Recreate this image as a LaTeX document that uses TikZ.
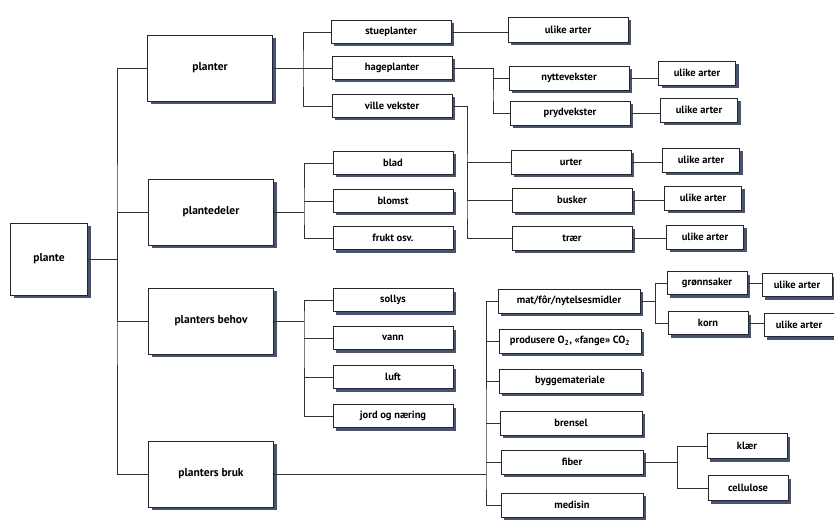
\documentclass[tikz,border=0pt]{standalone}
\usepackage{fontspec}
\setmainfont{PT Sans}
\usetikzlibrary{shadows}
\definecolor{shadowblue}{RGB}{25,40,80}
\tikzset{
  box/.style={draw=black!85, line width=0.8pt, fill=white, inner sep=1pt,
    font=\bfseries\fontsize{10.5}{12}\selectfont,
    drop shadow={shadow xshift=3pt, shadow yshift=-3pt, fill=shadowblue, opacity=0.8}},
  big/.style={box, minimum width=125pt, minimum height=66pt, font=\bfseries\fontsize{11.5}{13}\selectfont},
  small/.style={box, minimum width=120pt, minimum height=23pt},
  tiny/.style={box, minimum width=77pt, minimum height=24pt},
  wide/.style={box, minimum width=142pt, minimum height=24pt},
  veg/.style={box, minimum width=80pt, minimum height=23pt},
  conn/.style={draw=black!80, line width=0.7pt},
}
\begin{document}
\begin{tikzpicture}[x=1pt,y=-1pt]
\useasboundingbox (0,0) rectangle (834,521);
% level 0/1
\node[box, minimum width=77pt, minimum height=72pt, font=\bfseries\fontsize{11.5}{13}\selectfont] (plante) at (49,259) {plante};
\node[big] (planter) at (210,68) {planter};
\node[big] (deler) at (211,212) {plantedeler};
\node[big] (behov) at (211,321) {planters behov};
\node[big] (bruk) at (211,474) {planters bruk};
% level 2
\node[small] (stue) at (391,32) {stueplanter};
\node[small] (hage) at (392,68) {hageplanter};
\node[small] (ville) at (392,106) {ville vekster};
\node[small] (blad) at (393,163) {blad};
\node[small] (blomst) at (393,201) {blomst};
\node[small] (frukt) at (393,238) {frukt osv.};
\node[small] (sollys) at (393,300) {sollys};
\node[small] (vann) at (393,338) {vann};
\node[small] (luft) at (393,377) {luft};
\node[small] (jord) at (393,416) {jord og næring};
% level 3
\node[small, minimum height=25pt] (u1) at (568,30) {ulike arter};
\node[small, minimum height=24pt] (nytte) at (569,78) {nyttevekster};
\node[small, minimum height=24pt] (pryd) at (570,113) {prydvekster};
\node[small, minimum height=24pt] (urter) at (571,162) {urter};
\node[small, minimum height=24pt] (busker) at (572,200) {busker};
\node[small, minimum height=24pt] (traer) at (572,238) {trær};
\node[tiny] (u2) at (697,73) {ulike arter};
\node[tiny] (u3) at (699,110) {ulike arter};
\node[tiny] (u4) at (701,160) {ulike arter};
\node[tiny] (u5) at (703,198) {ulike arter};
\node[tiny] (u6) at (705,237) {ulike arter};
% uses
\node[wide] (mat) at (569,301) {mat/fôr/nytelsesmidler};
\node[wide] (prod) at (570,341) {produsere O\textsubscript{2}, «fange» CO\textsubscript{2}};
\node[wide] (bygg) at (570,381) {byggemateriale};
\node[wide] (brensel) at (571,423) {brensel};
\node[wide] (fiber) at (572,462) {fiber};
\node[wide] (medisin) at (572,505) {medisin};
\node[veg] (gronn) at (707,283) {grønnsaker};
\node[veg] (korn) at (708,323) {korn};
\node[box, minimum width=70pt, minimum height=23pt] (u7) at (797,285) {ulike arter};
\node[box, minimum width=70pt, minimum height=23pt] (u8) at (799,325) {ulike arter};
\node[veg, minimum height=25pt] (klaer) at (747,446) {klær};
\node[veg, minimum height=25pt] (cell) at (748,488) {cellulose};
% junction coordinates
\coordinate (t0) at (117,259);
\coordinate (t1) at (303,68);
\coordinate (t2) at (304,212);
\coordinate (t3) at (304,321);
\coordinate (th) at (493,90);
\coordinate (tv) at (467,200);
\coordinate (tb) at (486,474);
\coordinate (tm) at (655,301);
\coordinate (tf) at (677,462);
% connectors
\path[conn] (plante.east) -- (t0);
\path[conn] (planter.west) -| (t0) |- (bruk.west);
\path[conn] (deler.west) -| (t0);
\path[conn] (behov.west) -| (t0);
\path[conn] (stue.west) -| (t1) |- (ville.west);
\path[conn] (planter.east) -- (hage.west);
\path[conn] (blad.west) -| (t2) |- (frukt.west);
\path[conn] (deler.east) -- (t2);
\path[conn] (blomst.west) -- (blomst.west -| t2);
\path[conn] (sollys.west) -| (t3) |- (jord.west);
\path[conn] (behov.east) -- (t3);
\path[conn] (vann.west) -- (vann.west -| t3);
\path[conn] (luft.west) -- (luft.west -| t3);
\path[conn] (stue.east) -- (stue.east -| u1.west);
\path[conn] (hage.east) -| (th) |- (pryd.west);
\path[conn] (nytte.west) -| (th);
\path[conn] (ville.east) -| (tv) |- (traer.west);
\path[conn] (urter.west) -| (tv);
\path[conn] (busker.west) -- (tv);
\path[conn] (nytte.east) -- (nytte.east -| u2.west);
\path[conn] (pryd.east) -- (pryd.east -| u3.west);
\path[conn] (urter.east) -- (urter.east -| u4.west);
\path[conn] (busker.east) -- (busker.east -| u5.west);
\path[conn] (traer.east) -- (traer.east -| u6.west);
\path[conn] (bruk.east) -- (tb);
\path[conn] (mat.west) -| (tb) |- (medisin.west);
\path[conn] (prod.west) -- (prod.west -| tb);
\path[conn] (bygg.west) -- (bygg.west -| tb);
\path[conn] (brensel.west) -- (brensel.west -| tb);
\path[conn] (fiber.west) -- (fiber.west -| tb);
\path[conn] (mat.east) -- (tm);
\path[conn] (gronn.west) -| (tm) |- (korn.west);
\path[conn] (gronn.east) -- (gronn.east -| u7.west);
\path[conn] (korn.east) -- (korn.east -| u8.west);
\path[conn] (fiber.east) -- (tf);
\path[conn] (klaer.west) -| (tf) |- (cell.west);
\end{tikzpicture}
\end{document}
